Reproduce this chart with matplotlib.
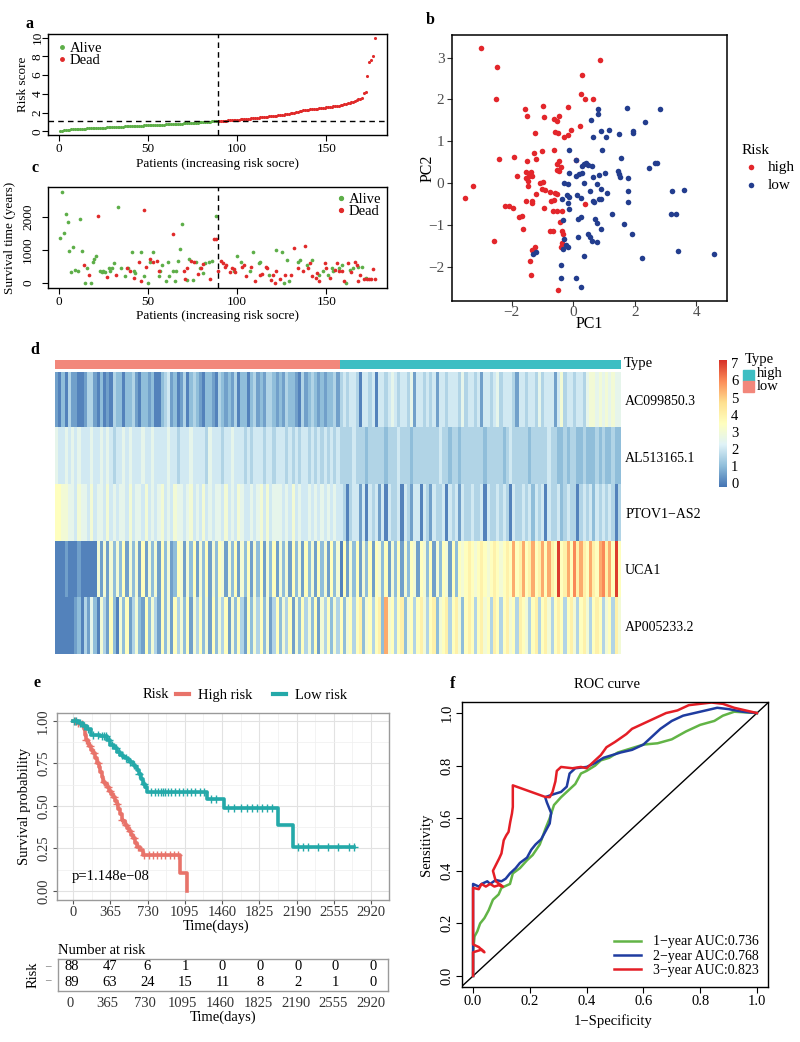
import numpy as np
import matplotlib
matplotlib.use("Agg")
import matplotlib.pyplot as plt
from matplotlib.colors import LinearSegmentedColormap, ListedColormap
from matplotlib.lines import Line2D
from matplotlib.patches import Rectangle

# ---------------- data ----------------
# a: risk scores sorted (low group then high group)
risk_low = [0.03, 0.07, 0.10, 0.13, 0.15, 0.17, 0.19, 0.20, 0.22, 0.23,
            0.24, 0.25, 0.26, 0.27, 0.28, 0.30, 0.31, 0.32, 0.33, 0.34,
            0.35, 0.36, 0.37, 0.38, 0.39, 0.40, 0.41, 0.42, 0.43, 0.44,
            0.45, 0.46, 0.47, 0.48, 0.49, 0.50, 0.51, 0.52, 0.53, 0.54,
            0.55, 0.56, 0.57, 0.58, 0.59, 0.60, 0.61, 0.62, 0.62, 0.63,
            0.64, 0.65, 0.66, 0.67, 0.68, 0.69, 0.70, 0.71, 0.72, 0.73,
            0.74, 0.75, 0.76, 0.77, 0.78, 0.79, 0.80, 0.81, 0.82, 0.83,
            0.84, 0.85, 0.86, 0.87, 0.88, 0.90, 0.91, 0.93, 0.94, 0.96,
            0.97, 0.99, 1.00, 1.02, 1.03, 1.05, 1.06, 1.07, 1.09]
risk_high = [1.10, 1.11, 1.12, 1.13, 1.14, 1.16, 1.17, 1.18, 1.20, 1.21,
             1.22, 1.24, 1.26, 1.28, 1.30, 1.32, 1.34, 1.36, 1.38, 1.40,
             1.42, 1.44, 1.46, 1.48, 1.50, 1.52, 1.54, 1.56, 1.58, 1.60,
             1.62, 1.64, 1.67, 1.70, 1.72, 1.75, 1.78, 1.80, 1.84, 1.88,
             1.92, 1.96, 2.00, 2.04, 2.08, 2.12, 2.18, 2.22, 2.26, 2.29,
             2.31, 2.33, 2.35, 2.37, 2.40, 2.42, 2.44, 2.47, 2.50, 2.52,
             2.55, 2.58, 2.61, 2.63, 2.65, 2.68, 2.71, 2.75, 2.80, 2.85,
             2.90, 2.95, 3.00, 3.04, 3.08, 3.12, 3.20, 3.30, 3.42, 3.50,
             3.60, 4.05, 4.25, 5.95, 7.40, 7.60, 8.10, 10.0]
risk_cutoff = 1.09

# c: survival time by patient index
alive_idx = [1, 2, 3, 4, 5, 6, 7, 8, 9, 11, 12, 13, 15, 16, 18, 19, 20, 21, 23, 24,
             25, 26, 28, 29, 30, 31, 33, 35, 37, 39, 41, 42, 43, 46, 48, 50, 51, 53, 56, 57,
             58, 60, 61, 62, 64, 65, 66, 67, 68, 69, 72, 73, 75, 77, 79, 81, 82, 84, 86, 88,
             98, 100, 102, 107, 109, 112, 113, 118, 122, 125, 126, 128, 129, 134, 135, 139, 142, 146, 148, 151,
             153, 154, 157, 159, 161, 163, 165, 168, 170, 172]
alive_days = [1370, 2750, 1530, 2080, 1850, 980, 330, 1100, 400, 350, 1950, 970, 0, 450, 0, 650, 730, 830, 370, 330,
              350, 330, 450, 350, 450, 600, 2300, 470, 200, 450, 930, 370, 300, 950, 200, 0, 650, 950, 200, 350,
              550, 50, 650, 200, 370, 50, 350, 670, 1030, 1780, 90, 730, 80, 650, 470, 300, 600, 650, 670, 2020,
              350, 830, 650, 350, 950, 600, 650, 230, 1000, 950, 0, 700, 70, 650, 700, 550, 700, 230, 370, 250,
              450, 350, 450, 550, 0, 400, 470, 500, 500, 150]
dead_idx = [14, 17, 22, 27, 32, 38, 40, 42, 45, 46, 48, 49, 51, 53, 55, 56, 64, 70, 71, 72,
            74, 76, 78, 80, 81, 85, 87, 88, 89, 91, 92, 93, 94, 96, 97, 98, 99, 103, 104, 105,
            108, 110, 113, 114, 116, 117, 119, 120, 121, 122, 124, 127, 130, 132, 134, 137, 138, 140, 141, 142,
            144, 145, 146, 149, 150, 152, 155, 156, 157, 159, 160, 162, 164, 166, 167, 168, 169, 171, 173, 174,
            175, 176, 177]
dead_days = [550, 230, 2030, 180, 230, 470, 370, 150, 650, 50, 2200, 500, 720, 650, 670, 350, 1490, 370, 130, 450,
             670, 630, 270, 470, 570, 130, 1320, 1320, 350, 670, 600, 500, 550, 330, 470, 430, 330, 500, 550, 200,
             500, 50, 250, 270, 500, 450, 100, 250, 0, 370, 130, 230, 230, 1050, 450, 350, 1130, 450, 600, 200,
             150, 300, 50, 600, 450, 150, 400, 600, 350, 350, 50, 600, 330, 650, 550, 70, 250, 130, 120, 130,
             120, 430, 130]

# b: PCA
pca_high_pc1 = [-3.01, -2.47, -2.50, -2.42, -3.26, -3.53, -2.58, -1.92, -1.83, -2.22,
                -2.10, -1.96, -1.77, -1.68, -1.63, -1.58, -1.50, -1.50, -1.52, -1.52,
                -1.48, -1.47, -1.43, -1.36, -1.35, -1.52, -1.35, -1.33, -1.25, -1.27,
                -1.20, -1.22, -1.25, -1.33, -1.41, -1.36, -1.03, -0.98, -0.96, -1.07,
                -0.98, -1.03, -0.92, -0.96, -0.76, -0.65, -0.74, -0.60, -0.71, -0.63,
                -0.54, -0.65, -0.54, -0.63, -0.63, -0.54, -0.46, -0.60, -0.49, -0.52,
                -0.46, -0.41, -0.52, -0.46, -0.38, -0.43, -0.38, -0.33, -0.38, -0.40,
                -0.49, -0.29, -0.18, -0.16, -0.08, 0.09, 0.22, 0.24, 0.27, 0.38,
                0.63, 0.87, 0.39]
pca_high_pc2 = [3.22, 2.77, 2.00, 0.58, -0.06, -0.36, -1.38, 0.62, 0.18, -0.56,
                -0.54, -0.59, -0.80, -0.78, -1.10, 1.77, 1.60, 0.52, 0.26, 0.12,
                0.06, -0.07, 0.17, 0.26, 0.16, -0.42, -0.42, -0.47, 1.20, 0.72,
                0.58, -0.27, -1.54, -1.60, -1.86, -2.19, 0.77, 1.84, 1.58, 0.01,
                0.02, -0.14, -0.16, -0.59, -1.14, -1.14, -0.22, -0.24, -0.42, -0.40,
                -0.26, -0.67, -0.68, 0.78, 1.52, 1.49, 1.60, 1.21, 1.20, 0.45,
                0.53, 0.38, 0.32, 0.30, -0.67, -0.92, -1.15, -1.22, -1.44, -1.52,
                -2.55, 1.09, 1.82, 1.16, 1.26, 0.54, 1.36, 2.13, 2.58, 2.00,
                2.00, 2.94, -0.50]
pca_low_pc1 = [0.57, 0.63, 0.82, 0.82, 0.92, 1.07, 1.16, 1.50, 1.75, 1.93,
               1.96, 2.32, 2.83, -0.13, 0.95, 1.55, 2.46, 2.66, 2.72, 0.09,
               0.27, 0.36, 0.41, 0.47, 0.62, -0.13, 0.09, 0.20, 0.30, 0.65,
               0.85, 1.03, 1.47, 1.49, 1.52, 1.79, -0.30, -0.16, 0.35, 0.54,
               0.76, 0.90, 1.09, 1.79, -0.20, -0.13, -0.35, -0.16, 0.11, 0.25,
               0.65, 0.68, 0.85, 0.92, 1.77, -0.14, -0.33, 0.14, 0.25, 0.71,
               0.76, 1.25, 1.65, 0.92, 0.47, 0.53, 0.60, 0.76, 0.14, -0.29,
               -0.22, -0.16, -0.33, 1.90, 0.36, -1.30, -1.22, -0.40, -0.40, 0.09,
               0.25, 2.25, 3.42, 3.17, 3.34, 3.20, 3.59, 4.57]
pca_low_pc2 = [1.50, 1.10, 1.76, 1.66, 1.25, 1.10, 1.28, 1.18, 1.80, 1.20,
               1.24, 1.45, 1.78, 0.78, 0.78, 0.61, 0.36, 0.49, 0.49, 0.54,
               0.41, 0.46, 0.49, 0.42, 0.41, 0.25, 0.17, 0.22, 0.25, 0.14,
               0.20, 0.25, 0.29, 0.21, 0.14, 0.13, 0.01, -0.02, 0.00, -0.18,
               -0.03, -0.14, -0.24, -0.19, -0.28, -0.34, -0.39, -0.47, -0.28, -0.35,
               -0.42, -0.46, -0.38, -0.38, -0.46, -0.63, -0.88, -0.86, -0.80, -0.86,
               -0.96, -0.74, -0.98, -1.10, -1.22, -1.30, -1.39, -1.40, -1.30, -1.34,
               -1.48, -1.52, -1.58, -1.22, -1.74, -1.70, -1.66, -1.96, -2.26, -2.28,
               -2.48, -1.78, -1.62, -0.74, -0.74, -0.20, -0.16, -1.70]

# d: heatmap, one character per patient, level index * 0.5 = expression
heat_genes = ["AC099850.3", "AL513165.1", "PTOV1\u2212AS2", "UCA1", "AP005233.2"]
heat_levels = "0123456789abcde"
heat_AC099850 = ("1020311001" "3310201032" "2022310221" "2002341201" "3023210221"
                 "0321213022" "0231213321" "2132210312" "321212231"
                 "3434430443" "4044345434" "4351443434" "1443444353" "4434144345"
                 "3444314434" "4353444146" "3443443566" "56565655")
heat_AL513165 = ("5445454544" "4544545434" "4545444544" "5444454434" "4454444354"
                 "4434454443" "4344434434" "4434343443" "434343434"
                 "3333433323" "3333233343" "3323333333" "3433233233" "3333323333"
                 "3234333332" "3333343322" "3233223222" "32322322")
heat_PTOV1 = ("7766554655" "4645546454" "5546455464" "5456454655" "4564546454"
              "5546454654" "4545646455" "5454645445" "454545454"
              "4303441404" "3414043340" "4314404314" "3340434143" "3433404334"
              "3430433434" "2434043342" "3433034342" "43434303")
heat_UCA1 = ("0001000100" "0006161626" "2716261716" "2617261276" "1627162716"
             "2761627162" "7162716271" "6261726172" "617261726"
             "0716271627" "1762716271" "6276176271" "6276172767" "8767876787"
             "6787b78b78" "b78b7b87e7" "8b7c8b87b8" "7bc8b7e7")
heat_AP005233 = ("0000001203" "1520631720" "6271362172" "6317261736" "2716372617"
                 "2637162731" "7263726137" "2637162736" "271637263"
                 "7267378267" "3782b67378" "2673786378" "2678378627" "8737867387"
                 "3786738763" "7837863787" "3786378637" "87367386")

# e: Kaplan-Meier
km_high_t = [0, 40, 70, 95, 110, 120, 130, 145, 160, 180, 200, 215, 235, 250, 265, 280, 295, 310,
             330, 350, 370, 390, 410, 430, 445, 460, 475, 490, 510, 530, 550, 570, 590, 610, 630,
             660, 690, 1049, 1115]
km_high_s = [1.0, 0.99, 0.98, 0.97, 0.95, 0.92, 0.89, 0.87, 0.85, 0.83, 0.81, 0.78, 0.75, 0.73,
             0.70, 0.67, 0.64, 0.63, 0.61, 0.59, 0.57, 0.55, 0.53, 0.51, 0.48, 0.45, 0.42, 0.41,
             0.39, 0.37, 0.35, 0.33, 0.31, 0.28, 0.26, 0.24, 0.21, 0.107, 0.0]
km_low_t = [0, 60, 100, 140, 180, 260, 330, 360, 400, 430, 460, 490, 510, 540, 560, 590, 610, 630,
            650, 670, 690, 705, 721, 1311, 1475, 2010, 2157, 2750]
km_low_s = [1.0, 0.99, 0.97, 0.95, 0.92, 0.91, 0.89, 0.86, 0.84, 0.82, 0.80, 0.79, 0.78, 0.77,
            0.76, 0.74, 0.73, 0.71, 0.69, 0.66, 0.63, 0.61, 0.58, 0.54, 0.49, 0.39, 0.26, 0.26]
km_high_cens = [20, 50, 90, 130, 170, 210, 240, 300, 340, 360, 400, 430, 480, 520, 560, 600, 640,
                700, 740, 780, 820, 860, 900, 950, 990, 1030]
km_low_cens = [10, 30, 70, 110, 150, 200, 240, 280, 300, 320, 350, 380, 420, 450, 480, 520, 560,
               600, 650, 700, 760, 800, 830, 860, 880, 900, 930, 960, 1000, 1040, 1080, 1120, 1160,
               1200, 1240, 1280, 1350, 1400, 1520, 1580, 1650, 1700, 1750, 1800, 1850, 1900, 1950,
               2200, 2250, 2300, 2400, 2500, 2600, 2700, 2750]
km_pvalue = "p=1.148e\u221208"
risk_times = [0, 365, 730, 1095, 1460, 1825, 2190, 2555, 2920]
risk_high_n = [88, 47, 6, 1, 0, 0, 0, 0, 0]
risk_low_n = [89, 63, 24, 15, 11, 8, 2, 1, 0]

# f: ROC
roc1_fpr = [0, 0, 0.005, 0.015, 0.025, 0.04, 0.055, 0.07, 0.09, 0.10, 0.13, 0.14, 0.165, 0.19, 0.21,
            0.235, 0.255, 0.27, 0.285, 0.31, 0.33, 0.36, 0.38, 0.40, 0.43, 0.45, 0.48, 0.51, 0.54,
            0.57, 0.60, 0.65, 0.70, 0.75, 0.80, 0.85, 0.88, 0.92, 1.0]
roc1_tpr = [0, 0.09, 0.15, 0.17, 0.20, 0.22, 0.25, 0.29, 0.31, 0.335, 0.35, 0.39, 0.41, 0.44, 0.46,
            0.50, 0.56, 0.60, 0.65, 0.68, 0.70, 0.73, 0.77, 0.78, 0.80, 0.82, 0.83, 0.85, 0.86,
            0.87, 0.88, 0.885, 0.90, 0.93, 0.955, 0.97, 0.99, 1.005, 1.0]
roc2_fpr = [0, 0, 0.02, 0.03, 0.05, 0.06, 0.08, 0.10, 0.115, 0.13, 0.15, 0.165, 0.19, 0.205, 0.22,
            0.24, 0.255, 0.27, 0.275, 0.26, 0.254, 0.28, 0.31, 0.33, 0.34, 0.36, 0.40, 0.43, 0.46,
            0.49, 0.52, 0.56, 0.60, 0.63, 0.66, 0.70, 0.74, 0.78, 0.82, 0.86, 0.90, 0.95, 1.0]
roc2_tpr = [0, 0.35, 0.34, 0.35, 0.36, 0.35, 0.365, 0.36, 0.37, 0.39, 0.41, 0.43, 0.45, 0.48, 0.50,
            0.52, 0.55, 0.58, 0.62, 0.66, 0.68, 0.69, 0.70, 0.72, 0.77, 0.79, 0.795, 0.81, 0.83,
            0.84, 0.85, 0.86, 0.88, 0.91, 0.94, 0.97, 0.99, 1.0, 1.01, 1.02, 1.015, 1.005, 1.0]
roc3_fpr = [0, 0, 0.03, 0.04, 0.02, 0, 0, 0.02, 0.03, 0.045, 0.06, 0.075, 0.09, 0.105, 0.08, 0.07,
            0.084, 0.092, 0.10, 0.108, 0.117, 0.125, 0.131, 0.137, 0.14, 0.14, 0.254, 0.27, 0.28,
            0.29, 0.295, 0.31, 0.35, 0.38, 0.40, 0.42, 0.45, 0.47, 0.50, 0.54, 0.56, 0.60, 0.64,
            0.68, 0.72, 0.76, 0.80, 0.84, 0.88, 0.92, 0.96, 1.0]
roc3_tpr = [0, 0.09, 0.10, 0.09, 0.11, 0.12, 0.335, 0.33, 0.35, 0.34, 0.35, 0.34, 0.345, 0.34, 0.36,
            0.40, 0.43, 0.447, 0.466, 0.516, 0.535, 0.548, 0.586, 0.618, 0.643, 0.725, 0.681, 0.68,
            0.70, 0.74, 0.78, 0.795, 0.79, 0.795, 0.79, 0.81, 0.84, 0.87, 0.89, 0.92, 0.94, 0.96,
            0.98, 1.0, 1.01, 1.03, 1.035, 1.04, 1.035, 1.02, 1.01, 1.0]
roc_labels = ["1\u2212year AUC:0.736", "2\u2212year AUC:0.768", "3\u2212year AUC:0.823"]

# ---------------- style ----------------
plt.rcParams['font.family'] = ['Liberation Serif', 'DejaVu Serif']
plt.rcParams['font.size'] = 9.5
plt.rcParams['axes.unicode_minus'] = True

GREEN = "#5DAE48"
RED = "#E02A2A"
PCA_RED = "#E3262B"
PCA_BLUE = "#233D8E"
KM_RED = "#E8736A"
KM_TEAL = "#24A9A9"
ANN_LOW = "#F2877B"
ANN_HIGH = "#3DBEC3"
ROC_COLS = ["#62B446", "#1F3CA0", "#E41E26"]

W, H = 800, 1042
fig = plt.figure(figsize=(W / 100, H / 100), dpi=100)


def add_ax(x0, y0, x1, y1):
    return fig.add_axes([x0 / W, 1 - y1 / H, (x1 - x0) / W, (y1 - y0) / H])


def ftext(x, y, s, **kw):
    return fig.text(x / W, 1 - y / H, s, **kw)


def base_style(ax):
    for sp in ax.spines.values():
        sp.set_linewidth(1.0)
    ax.tick_params(direction='out', length=4, width=0.8, pad=2)


for lab, (x, y) in zip("abcdef", [(30, 24), (430, 20), (35, 168), (35, 350), (37, 683), (453, 684)]):
    ftext(x, y, lab, fontsize=11.5, fontweight='bold', va='center', ha='center')

# ---------------- panel a ----------------
risk = np.array(risk_low + risk_high)
n_low = len(risk_low)
pts = np.arange(1, len(risk) + 1)
ax = add_ax(48, 34, 387, 135)
base_style(ax)
ax.scatter(pts[:n_low], risk[:n_low], s=5, color=GREEN, lw=0)
ax.scatter(pts[n_low:], risk[n_low:], s=5, color=RED, lw=0)
ax.axvline(n_low, ls=(0, (4, 3)), color='black', lw=1)
ax.axhline(risk_cutoff, ls=(0, (4, 3)), color='black', lw=1)
ax.set_xlim(-6, 184)
ax.set_ylim(-0.4, 10.4)
ax.set_xticks([0, 50, 100, 150])
ax.set_yticks([0, 2, 4, 6, 8, 10])
for t in ax.get_yticklabels():
    t.set_rotation(90)
    t.set_va('center')
ax.tick_params(axis='y', pad=-1)
ax.set_xlabel('Patients (increasing risk socre)')
ax.xaxis.set_label_coords(0.5, (135 - 158) / 101)
ax.set_ylabel('Risk score')
ax.yaxis.set_label_coords((29 - 48) / 339, 0.5)
ax.legend(handles=[Line2D([], [], marker='o', ls='', color=GREEN, ms=2.5, label='Alive'),
                   Line2D([], [], marker='o', ls='', color=RED, ms=2.5, label='Dead')],
          loc='upper left', frameon=False, handletextpad=0.15, borderpad=0.1, labelspacing=-0.1,
          handlelength=0.8, borderaxespad=0.45, fontsize=10.5)

# ---------------- panel c ----------------
ax = add_ax(48, 187, 387, 288)
base_style(ax)
ax.scatter(alive_idx, alive_days, s=7, color=GREEN, lw=0)
ax.scatter(dead_idx, dead_days, s=7, color=RED, lw=0)
ax.axvline(n_low, ls=(0, (4, 3)), color='black', lw=1)
ax.set_xlim(-6, 184)
ax.set_ylim(-150, 2910)
ax.set_xticks([0, 50, 100, 150])
ax.set_yticks([0, 1000, 2000])
for t in ax.get_yticklabels():
    t.set_rotation(90)
    t.set_va('center')
ax.tick_params(axis='y', pad=6)
ax.set_xlabel('Patients (increasing risk socre)')
ax.xaxis.set_label_coords(0.5, (288 - 310) / 101)
ax.set_ylabel('Survival time (years)')
ax.yaxis.set_label_coords((16 - 48) / 339, 0.5)
ax.legend(handles=[Line2D([], [], marker='o', ls='', color=GREEN, ms=2.8, label='Alive'),
                   Line2D([], [], marker='o', ls='', color=RED, ms=2.8, label='Dead')],
          loc='upper right', frameon=False, handletextpad=0.15, borderpad=0.1, labelspacing=-0.1,
          handlelength=0.8, borderaxespad=0.3, fontsize=10.5)

# ---------------- panel b ----------------
ax = add_ax(452, 35, 727, 301)
for sp in ax.spines.values():
    sp.set_linewidth(1.1)
ax.scatter(pca_high_pc1, pca_high_pc2, s=16, color=PCA_RED, lw=0, label='high')
ax.scatter(pca_low_pc1, pca_low_pc2, s=16, color=PCA_BLUE, lw=0, label='low')
ax.set_xlim(-3.94, 5.0)
ax.set_ylim(-2.82, 3.54)
ax.set_xticks([-2, 0, 2, 4])
ax.set_yticks([-2, -1, 0, 1, 2, 3])
ax.tick_params(direction='out', length=3.5, width=0.8, color='#333333', labelcolor='#4D4D4D',
               labelsize=11, pad=2)
ax.tick_params(axis='x', pad=0)
ax.set_xlabel('PC1', fontsize=11.5)
ax.xaxis.set_label_coords(0.5, (301 - 316) / 266)
ax.set_ylabel('PC2', fontsize=11.5)
ax.yaxis.set_label_coords((436 - 452) / 275, 0.5)
leg = ax.legend(title='Risk', loc='center left', bbox_to_anchor=(1.03, 0.5), frameon=False,
                handlelength=1.2, handletextpad=0.5, borderaxespad=0, fontsize=11,
                title_fontsize=11, markerscale=1.0, labelspacing=0.25)
leg._legend_box.align = 'left'

# ---------------- panel d ----------------
heat_rows = [heat_AC099850, heat_AL513165, heat_PTOV1, heat_UCA1, heat_AP005233]
heat = np.array([[heat_levels.index(ch) * 0.5 for ch in row] for row in heat_rows])
n_pat = heat.shape[1]
cmap = LinearSegmentedColormap.from_list(
    'rdylbu', ["#4575B4", "#91BFDB", "#E0F3F8", "#FFFFBF", "#FEE090", "#FC8D59", "#D73027"])
vmin, vmax = -0.25, 7.2

ax = add_ax(55, 360, 621, 369)
groups = np.array([[0] * n_low + [1] * (n_pat - n_low)])
ax.imshow(groups, cmap=ListedColormap([ANN_LOW, ANN_HIGH]), aspect='auto', interpolation='nearest')
ax.axis('off')
ftext(624, 364, 'Type', va='center', ha='left', fontsize=10.5)

ax = add_ax(55, 372, 621, 654)
ax.imshow(heat, cmap=cmap, vmin=vmin, vmax=vmax, aspect='auto', interpolation='nearest')
for sp in ax.spines.values():
    sp.set_visible(False)
ax.set_xticks([])
ax.yaxis.tick_right()
ax.set_yticks(range(len(heat_genes)))
ax.set_yticklabels(heat_genes, fontsize=10)
ax.tick_params(axis='y', length=0, pad=3)

cax = add_ax(719, 360, 727, 487)
grad = np.linspace(vmin, vmax, 256).reshape(-1, 1)
cax.imshow(grad, cmap=cmap, vmin=vmin, vmax=vmax, aspect='auto', origin='lower',
           extent=[0, 1, vmin, vmax])
for sp in cax.spines.values():
    sp.set_visible(False)
cax.set_xticks([])
cax.yaxis.tick_right()
cax.set_yticks(range(8))
cax.tick_params(axis='y', length=0, pad=3, labelsize=10.5)

ftext(745, 359, 'Type', va='center', ha='left', fontsize=10.5)
fig.add_artist(Rectangle((743 / W, 1 - 381 / H), 11 / W, 11 / H, color=ANN_HIGH,
                         transform=fig.transFigure))
fig.add_artist(Rectangle((743 / W, 1 - 392 / H), 11 / W, 11 / H, color=ANN_LOW,
                         transform=fig.transFigure))
ftext(757, 374, 'high', va='center', ha='left', fontsize=10.5)
ftext(757, 386, 'low', va='center', ha='left', fontsize=10.5)

# ---------------- panel e ----------------
ax = add_ax(57, 713, 389, 900)
ax.set_xlim(-157, 3096)
ax.set_ylim(-0.053, 1.047)
ax.set_xticks(risk_times)
ax.set_yticks([0, 0.25, 0.5, 0.75, 1.0])
ax.set_yticklabels(['0.00', '0.25', '0.50', '0.75', '1.00'])
for t in ax.get_yticklabels():
    t.set_rotation(90)
    t.set_va('center')
ax.set_xticks([182.5 + 365 * i for i in range(8)], minor=True)
ax.set_yticks([0.125, 0.375, 0.625, 0.875], minor=True)
ax.grid(which='major', color='#E2E2E2', lw=0.8)
ax.grid(which='minor', color='#EFEFEF', lw=0.5)
ax.set_axisbelow(True)
for sp in ax.spines.values():
    sp.set_color('#9A9A9A')
    sp.set_linewidth(1.0)
ax.tick_params(which='major', direction='out', length=3, color='#555555', labelcolor='#333333',
               labelsize=10.5, pad=2)
ax.tick_params(axis='x', which='major', pad=1)
ax.tick_params(which='minor', length=0)
for t_, s_, cens, col in [(km_high_t, km_high_s, km_high_cens, KM_RED),
                          (km_low_t, km_low_s, km_low_cens, KM_TEAL)]:
    ax.step(t_, s_, where='post', color=col, lw=2.6, zorder=3)
    idx = np.searchsorted(t_, cens, side='right') - 1
    ax.plot(cens, np.array(s_)[idx], ls='', marker='+', ms=6, mew=1.0, color=col, zorder=3)
ax.text(-10, 0.085, km_pvalue, fontsize=10.5, va='center', ha='left')
ax.set_xlabel('Time(days)', fontsize=10.5)
ax.xaxis.set_label_coords(0.48, (900 - 920) / 187)
ax.set_ylabel('Survival probability', fontsize=10.5)
ax.yaxis.set_label_coords((31 - 57) / 332, 0.5)
ftext(143, 695, 'Risk', va='center', ha='left', fontsize=10.5)
fig.legend(handles=[Line2D([], [], color=KM_RED, lw=3), Line2D([], [], color=KM_TEAL, lw=3)],
           labels=['High risk', 'Low risk'], ncol=2, loc='center left',
           bbox_to_anchor=(176 / W, 1 - 695 / H), frameon=False, handlelength=0.9,
           handletextpad=0.6, columnspacing=1.4, borderpad=0, borderaxespad=0, fontsize=10.5)

# risk table
ax = add_ax(58, 959, 388, 991)
ax.set_xlim(-116, 3085)
ax.set_ylim(0.5, 2.5)
for sp in ax.spines.values():
    sp.set_color('#9A9A9A')
    sp.set_linewidth(1.0)
ax.set_xticks(risk_times)
ax.set_yticks([])
ax.tick_params(axis='x', length=0, labelcolor='#333333', labelsize=10.5, pad=4)
for x_, hn, ln in zip(risk_times, risk_high_n, risk_low_n):
    ax.text(x_ + 20, 2, str(hn), ha='center', va='center', fontsize=10.5)
    ax.text(x_ + 20, 1, str(ln), ha='center', va='center', fontsize=10.5)
ax.set_xlabel('Time(days)', fontsize=10.5)
ax.xaxis.set_label_coords(0.5, (991 - 1011) / 32)
ftext(58, 950, 'Number at risk', va='center', ha='left', fontsize=10.5)
ftext(33, 975, 'Risk', va='center', ha='center', rotation=90, fontsize=10.5)
ftext(48, 967, '\u2013', va='center', ha='center', fontsize=8, color='#555555')
ftext(48, 981, '\u2013', va='center', ha='center', fontsize=8, color='#555555')

# ---------------- panel f ----------------
ax = add_ax(462, 702, 768, 987)
base_style(ax)
ax.set_xlim(-0.039, 1.039)
ax.set_ylim(-0.042, 1.042)
ax.axline((0, 0), (1, 1), color='black', lw=1)
for fpr, tpr, col, lab in zip([roc1_fpr, roc2_fpr, roc3_fpr], [roc1_tpr, roc2_tpr, roc3_tpr],
                              ROC_COLS, roc_labels):
    ax.plot(fpr, tpr, color=col, lw=1.8, label=lab)
ax.set_xticks([0, 0.2, 0.4, 0.6, 0.8, 1.0])
ax.set_yticks([0, 0.2, 0.4, 0.6, 0.8, 1.0])
ax.set_xticklabels(['0.0', '0.2', '0.4', '0.6', '0.8', '1.0'])
ax.set_yticklabels(['0.0', '0.2', '0.4', '0.6', '0.8', '1.0'])
for t in ax.get_yticklabels():
    t.set_rotation(90)
    t.set_va('center')
ax.tick_params(labelsize=10.5)
ax.set_xlabel('1\u2212Specificity', fontsize=10.5)
ax.xaxis.set_label_coords((613 - 462) / 306, (987 - 1014) / 285)
ax.set_ylabel('Sensitivity', fontsize=10.5)
ax.yaxis.set_label_coords((433 - 462) / 306, 0.5)
ftext(607, 684, 'ROC curve', va='center', ha='center', fontsize=10.5)
ax.legend(loc='lower right', frameon=False, handlelength=2.0, handletextpad=0.8,
          labelspacing=0.1, borderaxespad=0.3, fontsize=10)

fig.savefig('out.png', dpi=100)
